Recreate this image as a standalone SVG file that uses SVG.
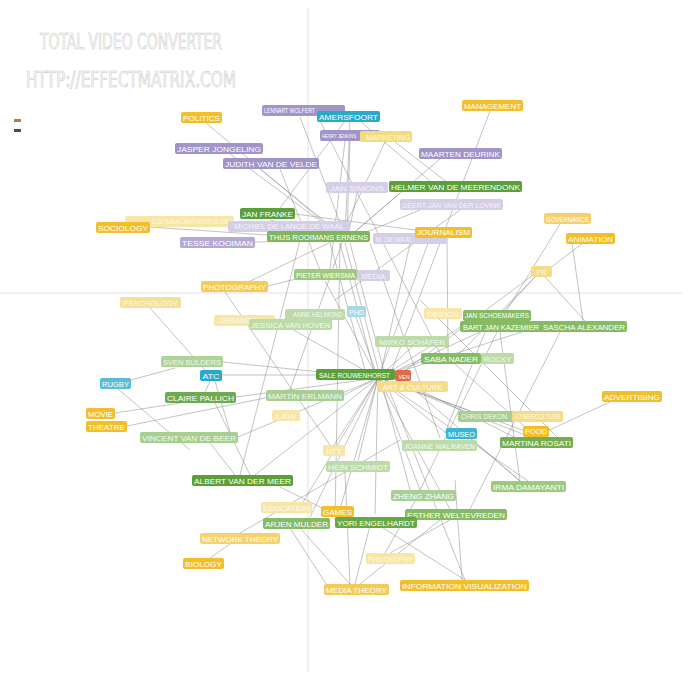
<svg xmlns="http://www.w3.org/2000/svg" width="693" height="675" viewBox="0 0 693 675">
<style>
.bg{fill:#fff}
.axis{stroke:#e2e2e2;stroke-width:1}
.wm{font-family:"DejaVu Sans Condensed","Liberation Sans",sans-serif;font-size:22px;fill:#fafafa;stroke:#c8c8c8;stroke-width:0.6}
#connectors line{stroke:#8c8c8c;stroke-width:0.7;stroke-opacity:0.75}
.n rect{rx:2;ry:2;height:11px}
.n text{font-family:"Liberation Sans",Arial,sans-serif;font-size:7.5px;fill:#fff;text-anchor:middle}
.gold rect{fill:#f2bf2a}
.gold2 rect{fill:#f4cc55}
.ply rect{fill:#f7e6a6}
.ply text{fill:#fffbe8}
.pur rect{fill:#a094c8}
.ppur rect{fill:#d4cee6}
.ppur text{fill:#f4f2fa}
.teal rect{fill:#2aaac8}
.pteal rect{fill:#a3d8e8}
.dg rect{fill:#5a9f3a}
.mg rect{fill:#86bb66}
.pg rect{fill:#bcdba8}
.pg text{fill:#f2f8ee}
.red rect{fill:#dd6b4a}
</style>
<rect class="bg" x="0" y="0" width="693" height="675"/>
<line class="axis" x1="308" y1="8" x2="308" y2="672"/>
<line class="axis" x1="0" y1="293" x2="682" y2="293"/>
<text class="wm" x="40" y="49" textLength="182" lengthAdjust="spacingAndGlyphs">TOTAL VIDEO CONVERTER</text>
<text class="wm" x="26" y="87" textLength="210" lengthAdjust="spacingAndGlyphs">HTTP://EFFECTMATRIX.COM</text>
<rect x="14" y="119" width="7" height="3" fill="#c07a30"/>
<rect x="14" y="129" width="7" height="3" fill="#5a4a3a"/>
<g id="connectors">
<line x1="205" y1="122" x2="340" y2="236"/>
<line x1="230" y1="154" x2="340" y2="236"/>
<line x1="260" y1="169" x2="343" y2="236"/>
<line x1="280" y1="169" x2="320" y2="270"/>
<line x1="300" y1="117" x2="345" y2="236"/>
<line x1="318" y1="117" x2="440" y2="353"/>
<line x1="350" y1="121" x2="345" y2="236"/>
<line x1="345" y1="121" x2="280" y2="208"/>
<line x1="360" y1="121" x2="430" y2="181"/>
<line x1="350" y1="141" x2="347" y2="236"/>
<line x1="345" y1="141" x2="330" y2="269"/>
<line x1="395" y1="142" x2="448" y2="183"/>
<line x1="385" y1="142" x2="340" y2="237"/>
<line x1="490" y1="111" x2="390" y2="375"/>
<line x1="440" y1="159" x2="350" y2="236"/>
<line x1="357" y1="193" x2="348" y2="236"/>
<line x1="400" y1="193" x2="350" y2="236"/>
<line x1="420" y1="210" x2="352" y2="238"/>
<line x1="460" y1="210" x2="335" y2="300"/>
<line x1="295" y1="214" x2="430" y2="232"/>
<line x1="270" y1="220" x2="343" y2="238"/>
<line x1="230" y1="221" x2="343" y2="238"/>
<line x1="150" y1="227" x2="340" y2="240"/>
<line x1="255" y1="242" x2="340" y2="240"/>
<line x1="447" y1="238" x2="448" y2="353"/>
<line x1="430" y1="238" x2="378" y2="378"/>
<line x1="410" y1="244" x2="380" y2="376"/>
<line x1="560" y1="224" x2="500" y2="321"/>
<line x1="583" y1="243" x2="550" y2="268"/>
<line x1="572" y1="243" x2="583" y2="321"/>
<line x1="545" y1="277" x2="585" y2="321"/>
<line x1="535" y1="277" x2="490" y2="326"/>
<line x1="535" y1="277" x2="460" y2="353"/>
<line x1="533" y1="275" x2="395" y2="378"/>
<line x1="325" y1="281" x2="378" y2="378"/>
<line x1="300" y1="278" x2="268" y2="286"/>
<line x1="240" y1="286" x2="335" y2="240"/>
<line x1="225" y1="292" x2="330" y2="445"/>
<line x1="150" y1="308" x2="205" y2="370"/>
<line x1="223" y1="362" x2="378" y2="378"/>
<line x1="222" y1="375" x2="355" y2="375"/>
<line x1="236" y1="397" x2="378" y2="378"/>
<line x1="120" y1="383" x2="175" y2="368"/>
<line x1="118" y1="389" x2="190" y2="450"/>
<line x1="115" y1="413" x2="180" y2="403"/>
<line x1="127" y1="426" x2="270" y2="397"/>
<line x1="210" y1="381" x2="205" y2="392"/>
<line x1="215" y1="381" x2="230" y2="432"/>
<line x1="238" y1="437" x2="378" y2="378"/>
<line x1="210" y1="443" x2="235" y2="475"/>
<line x1="215" y1="403" x2="250" y2="475"/>
<line x1="280" y1="487" x2="330" y2="512"/>
<line x1="255" y1="475" x2="378" y2="378"/>
<line x1="344" y1="395" x2="378" y2="378"/>
<line x1="290" y1="390" x2="343" y2="240"/>
<line x1="300" y1="507" x2="378" y2="378"/>
<line x1="340" y1="509" x2="378" y2="378"/>
<line x1="300" y1="528" x2="350" y2="584"/>
<line x1="310" y1="517" x2="378" y2="378"/>
<line x1="380" y1="526" x2="465" y2="580"/>
<line x1="375" y1="514" x2="378" y2="378"/>
<line x1="240" y1="533" x2="400" y2="440"/>
<line x1="230" y1="544" x2="210" y2="558"/>
<line x1="360" y1="584" x2="440" y2="520"/>
<line x1="355" y1="584" x2="370" y2="526"/>
<line x1="462" y1="580" x2="455" y2="480"/>
<line x1="390" y1="553" x2="450" y2="520"/>
<line x1="385" y1="553" x2="415" y2="501"/>
<line x1="528" y1="481" x2="378" y2="378"/>
<line x1="520" y1="481" x2="470" y2="438"/>
<line x1="610" y1="402" x2="545" y2="432"/>
<line x1="525" y1="431" x2="380" y2="378"/>
<line x1="530" y1="437" x2="385" y2="380"/>
<line x1="446" y1="433" x2="380" y2="380"/>
<line x1="470" y1="411" x2="380" y2="378"/>
<line x1="420" y1="490" x2="378" y2="378"/>
<line x1="450" y1="509" x2="378" y2="378"/>
<line x1="358" y1="461" x2="378" y2="378"/>
<line x1="334" y1="445" x2="378" y2="378"/>
<line x1="540" y1="326" x2="380" y2="378"/>
<line x1="480" y1="332" x2="380" y2="378"/>
<line x1="470" y1="321" x2="380" y2="378"/>
<line x1="425" y1="360" x2="380" y2="378"/>
<line x1="412" y1="347" x2="378" y2="378"/>
<line x1="356" y1="317" x2="378" y2="378"/>
<line x1="290" y1="328" x2="378" y2="378"/>
<line x1="340" y1="243" x2="375" y2="375"/>
<line x1="350" y1="243" x2="385" y2="375"/>
<line x1="330" y1="243" x2="365" y2="370"/>
<line x1="345" y1="243" x2="410" y2="490"/>
<line x1="455" y1="364" x2="536" y2="437"/>
<line x1="500" y1="332" x2="520" y2="481"/>
<line x1="560" y1="332" x2="470" y2="509"/>
<line x1="412" y1="386" x2="520" y2="440"/>
<line x1="403" y1="380" x2="520" y2="481"/>
<line x1="500" y1="326" x2="420" y2="490"/>
<line x1="485" y1="332" x2="445" y2="433"/>
<line x1="350" y1="584" x2="345" y2="472"/>
<line x1="335" y1="520" x2="340" y2="243"/>
<line x1="300" y1="240" x2="240" y2="475"/>
<line x1="370" y1="243" x2="440" y2="438"/>
<line x1="465" y1="580" x2="385" y2="380"/>
<line x1="560" y1="440" x2="420" y2="300"/>
<line x1="330" y1="590" x2="290" y2="528"/>
</g>
<g id="n-politics" class="n gold"><rect x="181" y="112" width="41"/><text x="201.5" y="120.5" textLength="37" lengthAdjust="spacingAndGlyphs">POLITICS</text></g>
<g id="n-management" class="n gold"><rect x="462" y="100" width="61"/><text x="492.5" y="108.5" textLength="57" lengthAdjust="spacingAndGlyphs">MANAGEMENT</text></g>
<g id="n-lennart" class="n pur"><rect x="262" y="105" width="83"/><text x="264" y="112.8" textLength="51" lengthAdjust="spacingAndGlyphs" style="text-anchor:start;font-size:6.8px">LENNART WOLFERT</text></g>
<g id="n-amersfoort" class="n teal"><rect x="317" y="111" width="63"/><text x="348.5" y="119.8" textLength="59" lengthAdjust="spacingAndGlyphs">AMERSFOORT</text></g>
<g id="n-henry" class="n pur"><rect x="320" y="130" width="60"/><text x="322" y="138" textLength="34" lengthAdjust="spacingAndGlyphs" style="text-anchor:start;font-size:6px">HENRY JENKINS</text></g>
<g id="n-marketing" class="n ply"><rect x="360" y="131" width="52" style="fill:#f3dc7f"/><text x="388" y="139.5" textLength="44" lengthAdjust="spacingAndGlyphs" style="font-size:7px">MARKETING</text></g>
<g id="n-jasper" class="n pur"><rect x="175" y="143" width="88"/><text x="219" y="151.5" textLength="84" lengthAdjust="spacingAndGlyphs">JASPER JONGELING</text></g>
<g id="n-judith" class="n pur"><rect x="223" y="158" width="96"/><text x="271" y="166.5" textLength="92" lengthAdjust="spacingAndGlyphs">JUDITH VAN DE VELDE</text></g>
<g id="n-maarten" class="n pur"><rect x="419" y="148" width="83"/><text x="460.5" y="156.5" textLength="79" lengthAdjust="spacingAndGlyphs">MAARTEN DEURINK</text></g>
<g id="n-jansimons" class="n ppur"><rect x="326" y="182" width="62"/><text x="357" y="190.5" textLength="54" lengthAdjust="spacingAndGlyphs">JAN SIMONS</text></g>
<g id="n-helmer" class="n dg"><rect x="389" y="181" width="133"/><text x="455.5" y="189.5" textLength="129" lengthAdjust="spacingAndGlyphs">HELMER VAN DE MEERENDONK</text></g>
<g id="n-geert" class="n ppur"><rect x="400" y="199" width="103"/><text x="451.5" y="207.5" textLength="99" lengthAdjust="spacingAndGlyphs">GEERT-JAN VAN DER LOVINK</text></g>
<g id="n-cultural" class="n ply"><rect x="125" y="216" width="109"/><text x="152" y="223.8" textLength="80" lengthAdjust="spacingAndGlyphs" style="text-anchor:start;font-size:7px">CULTURAL ANTHROPOLOGY</text></g>
<g id="n-sociology" class="n gold"><rect x="96" y="222" width="54"/><text x="123" y="230.5" textLength="50" lengthAdjust="spacingAndGlyphs">SOCIOLOGY</text></g>
<g id="n-janfranke" class="n dg"><rect x="240" y="208" width="55"/><text x="267.5" y="216.5" textLength="51" lengthAdjust="spacingAndGlyphs">JAN FRANKE</text></g>
<g id="n-michiel" class="n ppur"><rect x="228" y="221" width="122"/><text x="289" y="229" textLength="110" lengthAdjust="spacingAndGlyphs">MICHIEL DE LANGE DE WAAL</text></g>
<g id="n-thijs" class="n mg"><rect x="267" y="231" width="103" style="fill:#7fb65d"/><text x="318.5" y="239.5" textLength="99" lengthAdjust="spacingAndGlyphs">THIJS ROOIMANS ERNENS</text></g>
<g id="n-pp2" class="n ppur"><rect x="373" y="233" width="74"/><text x="376" y="242" textLength="36" lengthAdjust="spacingAndGlyphs" style="text-anchor:start;font-size:6.5px">M. DE WAAL</text></g>
<g id="n-journalism" class="n gold"><rect x="415" y="227" width="57"/><text x="443.5" y="235" textLength="53" lengthAdjust="spacingAndGlyphs">JOURNALISM</text></g>
<g id="n-tesse" class="n pur"><rect x="180" y="237" width="75" style="fill:#b3a9d4"/><text x="217.5" y="245.5" textLength="71" lengthAdjust="spacingAndGlyphs">TESSE KOOIMAN</text></g>
<g id="n-governance" class="n gold2"><rect x="544" y="213" width="47" style="fill:#f5d070"/><text x="567.5" y="221.5" textLength="43" lengthAdjust="spacingAndGlyphs">GOVERNANCE</text></g>
<g id="n-animation" class="n gold"><rect x="566" y="233" width="49"/><text x="590.5" y="241.5" textLength="45" lengthAdjust="spacingAndGlyphs">ANIMATION</text></g>
<g id="n-pr" class="n ply"><rect x="531" y="266" width="21" style="fill:#f5dc88"/><text x="541.5" y="274.5">PR</text></g>
<g id="n-pieter" class="n mg"><rect x="294" y="269" width="63" style="fill:#9dc97f"/><text x="325.5" y="277.5" textLength="59" lengthAdjust="spacingAndGlyphs">PIETER WIERSMA</text></g>
<g id="n-pp3" class="n ppur"><rect x="357" y="270" width="33"/><text x="373.5" y="278.5">MEDIA</text></g>
<g id="n-photography" class="n gold2"><rect x="201" y="281" width="67"/><text x="234.5" y="289.5" textLength="63" lengthAdjust="spacingAndGlyphs">PHOTOGRAPHY</text></g>
<g id="n-psychology" class="n ply"><rect x="120" y="297" width="61" style="fill:#f4e09a"/><text x="150.5" y="305.5" textLength="55" lengthAdjust="spacingAndGlyphs">PSYCHOLOGY</text></g>
<g id="n-architecture" class="n ply"><rect x="214" y="315" width="61"/><text x="239" y="322.8" textLength="40" lengthAdjust="spacingAndGlyphs" style="font-size:6.5px">URBANISM</text></g>
<g id="n-pg1" class="n pg"><rect x="285" y="309" width="60"/><text x="318" y="316.5" textLength="50" lengthAdjust="spacingAndGlyphs" style="font-size:6.5px">ANNE HELMOND</text></g>
<g id="n-jessica" class="n pg"><rect x="249" y="319" width="83"/><text x="290.5" y="327.5" textLength="79" lengthAdjust="spacingAndGlyphs">JESSICA VAN HOVEN</text></g>
<g id="n-phd" class="n pteal"><rect x="347" y="306" width="19"/><text x="356.5" y="314.5" textLength="15" lengthAdjust="spacingAndGlyphs">PHD</text></g>
<g id="n-design" class="n ply"><rect x="424" y="308" width="38"/><text x="443" y="316.5" textLength="32" lengthAdjust="spacingAndGlyphs">DESIGN</text></g>
<g id="n-janschoe" class="n mg"><rect x="463" y="310" width="68"/><text x="497" y="318" textLength="64" lengthAdjust="spacingAndGlyphs">JAN SCHOEMAKERS</text></g>
<g id="n-bartjan" class="n mg"><rect x="460" y="321" width="89"/><text x="501" y="329.5" textLength="76" lengthAdjust="spacingAndGlyphs">BART JAN KAZEMIER</text></g>
<g id="n-sascha" class="n mg"><rect x="541" y="321" width="86"/><text x="584" y="329.5" textLength="82" lengthAdjust="spacingAndGlyphs">SASCHA ALEXANDER</text></g>
<g id="n-pg2" class="n pg"><rect x="375" y="336" width="74"/><text x="412" y="344.5" textLength="66" lengthAdjust="spacingAndGlyphs">MIRKO SCHÄFER</text></g>
<g id="n-saba" class="n mg"><rect x="421" y="353" width="60"/><text x="451" y="361.5" textLength="54" lengthAdjust="spacingAndGlyphs">SABA NADER</text></g>
<g id="n-rocky" class="n pg"><rect x="481" y="353" width="33"/><text x="497.5" y="361.5" textLength="28" lengthAdjust="spacingAndGlyphs">ROCKY</text></g>
<g id="n-sven" class="n pg"><rect x="161" y="356" width="62" style="fill:#add396"/><text x="192" y="364.5" textLength="58" lengthAdjust="spacingAndGlyphs">SVEN BULDERS</text></g>
<g id="n-arts" class="n ply"><rect x="377" y="381" width="71" style="fill:#f5dc8c"/><text x="412.5" y="389.5" textLength="60" lengthAdjust="spacingAndGlyphs">ART &amp; CULTURE</text></g>
<g id="n-sale" class="n dg"><rect x="316" y="369" width="79"/><text x="354.5" y="377.5" textLength="71" lengthAdjust="spacingAndGlyphs" style="font-size:7px">SALE ROUWENHORST</text></g>
<g id="n-ven" class="n red"><rect x="395" y="370" width="16"/><text x="404" y="378.5" textLength="11" lengthAdjust="spacingAndGlyphs" style="font-size:6px">VEN</text></g>
<g id="n-atc" class="n teal"><rect x="200" y="370" width="22"/><text x="211" y="378.5" textLength="17" lengthAdjust="spacingAndGlyphs">ATC</text></g>
<g id="n-rugby" class="n teal"><rect x="100" y="378" width="31" style="fill:#5cbcd6"/><text x="115.5" y="386.5" textLength="27" lengthAdjust="spacingAndGlyphs">RUGBY</text></g>
<g id="n-claire" class="n dg"><rect x="165" y="392" width="71" style="fill:#6faa4e"/><text x="200.5" y="400.5" textLength="67" lengthAdjust="spacingAndGlyphs">CLAIRE PALLICH</text></g>
<g id="n-martin" class="n pg"><rect x="266" y="390" width="78" style="fill:#a8cf92"/><text x="305" y="398.5" textLength="74" lengthAdjust="spacingAndGlyphs">MARTIN ERLMANN</text></g>
<g id="n-advertising" class="n gold"><rect x="602" y="391" width="60"/><text x="632" y="399.5" textLength="56" lengthAdjust="spacingAndGlyphs">ADVERTISING</text></g>
<g id="n-movie" class="n gold"><rect x="86" y="408" width="29"/><text x="100.5" y="416.5" textLength="25" lengthAdjust="spacingAndGlyphs">MOVIE</text></g>
<g id="n-theatre" class="n gold"><rect x="86" y="421" width="41"/><text x="106.5" y="429.5" textLength="37" lengthAdjust="spacingAndGlyphs">THEATRE</text></g>
<g id="n-law" class="n ply"><rect x="272" y="410" width="28"/><text x="286" y="418.5" textLength="20" lengthAdjust="spacingAndGlyphs">LAW</text></g>
<g id="n-chris" class="n pg"><rect x="458" y="411" width="64" style="fill:#a8cf92"/><text x="461" y="418.8" textLength="46" lengthAdjust="spacingAndGlyphs" style="text-anchor:start;font-size:6.5px">CHRIS DEKON</text></g>
<g id="n-cyber" class="n ply"><rect x="512" y="411" width="51" style="fill:#f5dc8c"/><text x="538" y="418.8" textLength="45" lengthAdjust="spacingAndGlyphs" style="font-size:6.5px">CYBERCULTURE</text></g>
<g id="n-food" class="n gold"><rect x="523" y="426" width="26"/><text x="536" y="434" textLength="22" lengthAdjust="spacingAndGlyphs">FOOD</text></g>
<g id="n-museo" class="n teal"><rect x="446" y="428" width="31" style="fill:#3cb4d2"/><text x="461.5" y="436.5" textLength="27" lengthAdjust="spacingAndGlyphs">MUSEO</text></g>
<g id="n-martina" class="n mg"><rect x="500" y="437" width="73" style="fill:#74ae52"/><text x="536.5" y="445.5" textLength="69" lengthAdjust="spacingAndGlyphs">MARTINA ROSATI</text></g>
<g id="n-joanne" class="n pg"><rect x="402" y="440" width="75"/><text x="439.5" y="448.5" textLength="71" lengthAdjust="spacingAndGlyphs">JOANNE WALRAVEN</text></g>
<g id="n-vincent" class="n pg"><rect x="140" y="432" width="98" style="fill:#a7cf90"/><text x="189" y="440.5" textLength="94" lengthAdjust="spacingAndGlyphs">VINCENT VAN DE BEER</text></g>
<g id="n-ict" class="n ply"><rect x="323" y="445" width="22"/><text x="334" y="453.5" textLength="16" lengthAdjust="spacingAndGlyphs">ICT</text></g>
<g id="n-hen" class="n pg"><rect x="326" y="461" width="64"/><text x="358" y="469.5" textLength="60" lengthAdjust="spacingAndGlyphs">HEIN SCHMIDT</text></g>
<g id="n-albert" class="n dg"><rect x="192" y="475" width="101"/><text x="242.5" y="483.5" textLength="97" lengthAdjust="spacingAndGlyphs">ALBERT VAN DER MEER</text></g>
<g id="n-irma" class="n mg"><rect x="491" y="481" width="75" style="fill:#9ccb80"/><text x="528.5" y="489.5" textLength="71" lengthAdjust="spacingAndGlyphs">IRMA DAMAYANTI</text></g>
<g id="n-zheng" class="n mg"><rect x="391" y="490" width="65" style="fill:#a9cf92"/><text x="423.5" y="498.5" textLength="61" lengthAdjust="spacingAndGlyphs">ZHENG ZHANG</text></g>
<g id="n-education" class="n ply"><rect x="261" y="502" width="51"/><text x="286.5" y="510.5" textLength="47" lengthAdjust="spacingAndGlyphs">EDUCATION</text></g>
<g id="n-esther" class="n mg"><rect x="405" y="509" width="102"/><text x="456" y="517.5" textLength="98" lengthAdjust="spacingAndGlyphs">ESTHER WELTEVREDEN</text></g>
<g id="n-arjen" class="n mg"><rect x="263" y="518" width="67"/><text x="296.5" y="526.5" textLength="63" lengthAdjust="spacingAndGlyphs">ARJEN MULDER</text></g>
<g id="n-games" class="n gold"><rect x="321" y="506" width="33"/><text x="337.5" y="514.5" textLength="29" lengthAdjust="spacingAndGlyphs">GAMES</text></g>
<g id="n-yori" class="n dg"><rect x="335" y="517" width="82" style="fill:#66a845"/><text x="376" y="525.5" textLength="78" lengthAdjust="spacingAndGlyphs">YORI ENGELHARDT</text></g>
<g id="n-network" class="n gold2"><rect x="200" y="533" width="80" style="fill:#f5d36a"/><text x="240" y="541.5" textLength="76" lengthAdjust="spacingAndGlyphs">NETWORK THEORY</text></g>
<g id="n-philosophy" class="n ply"><rect x="366" y="553" width="49"/><text x="390.5" y="561.5" textLength="45" lengthAdjust="spacingAndGlyphs">PHILOSOPHY</text></g>
<g id="n-biology" class="n gold"><rect x="183" y="558" width="41"/><text x="203.5" y="566.5" textLength="37" lengthAdjust="spacingAndGlyphs">BIOLOGY</text></g>
<g id="n-mediatheory" class="n gold2"><rect x="324" y="584" width="65"/><text x="356.5" y="592.5" textLength="61" lengthAdjust="spacingAndGlyphs">MEDIA THEORY</text></g>
<g id="n-infovis" class="n gold"><rect x="400" y="580" width="129"/><text x="464.5" y="588.5" textLength="125" lengthAdjust="spacingAndGlyphs">INFORMATION VISUALIZATION</text></g>
</svg>
